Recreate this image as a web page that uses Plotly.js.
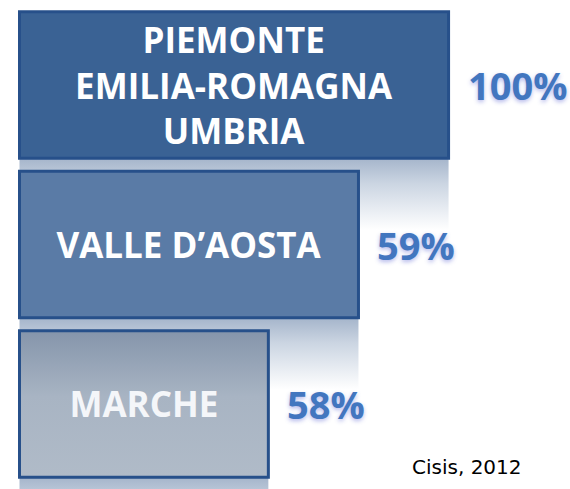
<!DOCTYPE html>
<html>
<head>
<meta charset="utf-8">
<script src="https://cdn.plot.ly/plotly-3.0.1.min.js"></script>
<style>html,body{margin:0;padding:0;background:#fff;}#chart{width:570px;height:489px;}</style>
</head>
<body>
<div id="chart"></div>
<script>
// ---- data ----
const regionLabels = ['PIEMONTE<br>EMILIA-ROMAGNA<br>UMBRIA', 'VALLE D\u2019AOSTA', 'MARCHE'];
const barLength = [100, 79, 58];          // drawn bar lengths (as in the picture)
const pctLabels = ['100%', '59%', '58%'];  // printed values
const positions = [0, 1, 2];
const sourceText = 'Cisis, 2012';

// ---- styles ----
const barFill = ['#3A6294', '#5A7BA6', 'rgba(0,0,0,0)'];
const barLine = '#27508A';
const textCol = ['#FFFFFF', '#FFFFFF', '#F4F6F9'];
const BW = 0.92;       // bar thickness in category units
const REFL = 0.45;     // reflection depth

const traces = [];
// reflections (base axes, drawn below bars)
positions.forEach((p, i) => {
  const y0 = p + BW / 2, y1 = y0 + REFL;
  traces.push({
    type: 'scatter', mode: 'lines', xaxis: 'x', yaxis: 'y',
    x: [0, barLength[i], barLength[i], 0, 0],
    y: [y0, y0, y1, y1, y0],
    fill: 'toself', line: {width: 0, color: 'rgba(0,0,0,0)'},
    fillgradient: {type: 'vertical', start: y0, stop: y1,
      colorscale: [[0, 'rgba(165,181,203,1)'], [0.35, 'rgba(203,213,226,1)'], [1, 'rgba(255,255,255,1)']]},
    hoverinfo: 'skip', showlegend: false
  });
});
// gradient fill for the last bar
(function () {
  const i = 2, p = positions[i];
  const y0 = p - BW / 2, y1 = p + BW / 2;
  traces.push({
    type: 'scatter', mode: 'lines', xaxis: 'x', yaxis: 'y',
    x: [0, barLength[i], barLength[i], 0, 0],
    y: [y0, y0, y1, y1, y0],
    fill: 'toself', line: {width: 0, color: 'rgba(0,0,0,0)'},
    fillgradient: {type: 'vertical', start: y0, stop: y1,
      colorscale: [[0, '#8595AB'], [0.45, '#A8B4C3'], [1, '#B0BBC8']]},
    hoverinfo: 'skip', showlegend: false
  });
})();
// bars (overlay axes, drawn on top)
traces.push({
  type: 'bar', orientation: 'h', xaxis: 'x2', yaxis: 'y2',
  x: barLength, y: positions, width: BW,
  marker: {color: barFill, line: {color: barLine, width: 3}},
  text: regionLabels, textposition: 'inside', insidetextanchor: 'middle',
  constraintext: 'none', textangle: 0,
  textfont: {family: 'Open Sans, sans-serif', size: 35, color: textCol, weight: 'bold'},
  hoverinfo: 'skip', showlegend: false, cliponaxis: false
});

const xr = [-4.545, 128.3];
const yr = [2.533, -0.533];
const annotations = positions.map((p, i) => ({
  x: barLength[i], y: p, xref: 'x2', yref: 'y2', xanchor: 'left', yanchor: 'middle',
  xshift: 17, showarrow: false, text: pctLabels[i],
  font: {family: 'Open Sans, sans-serif', size: 38, color: '#4276BF', weight: 'bold',
         shadow: '0px 2px 4px rgba(90,100,210,0.45)'}
}));
annotations.push({
  x: 0.82, y: 0.045, xref: 'paper', yref: 'paper', xanchor: 'center', yanchor: 'middle',
  showarrow: false, text: sourceText,
  font: {family: 'DejaVu Sans, sans-serif', size: 20, color: '#000'}
});

const layout = {
  width: 570, height: 489, margin: {l: 0, r: 0, t: 0, b: 0},
  paper_bgcolor: '#fff', plot_bgcolor: '#fff', showlegend: false,
  xaxis: {range: xr, visible: false, fixedrange: true},
  yaxis: {range: yr, visible: false, fixedrange: true},
  xaxis2: {range: xr, visible: false, overlaying: 'x', fixedrange: true},
  yaxis2: {range: yr, visible: false, overlaying: 'y', fixedrange: true},
  annotations: annotations
};
Plotly.newPlot('chart', traces, layout, {staticPlot: true, displayModeBar: false});
</script>
</body>
</html>
